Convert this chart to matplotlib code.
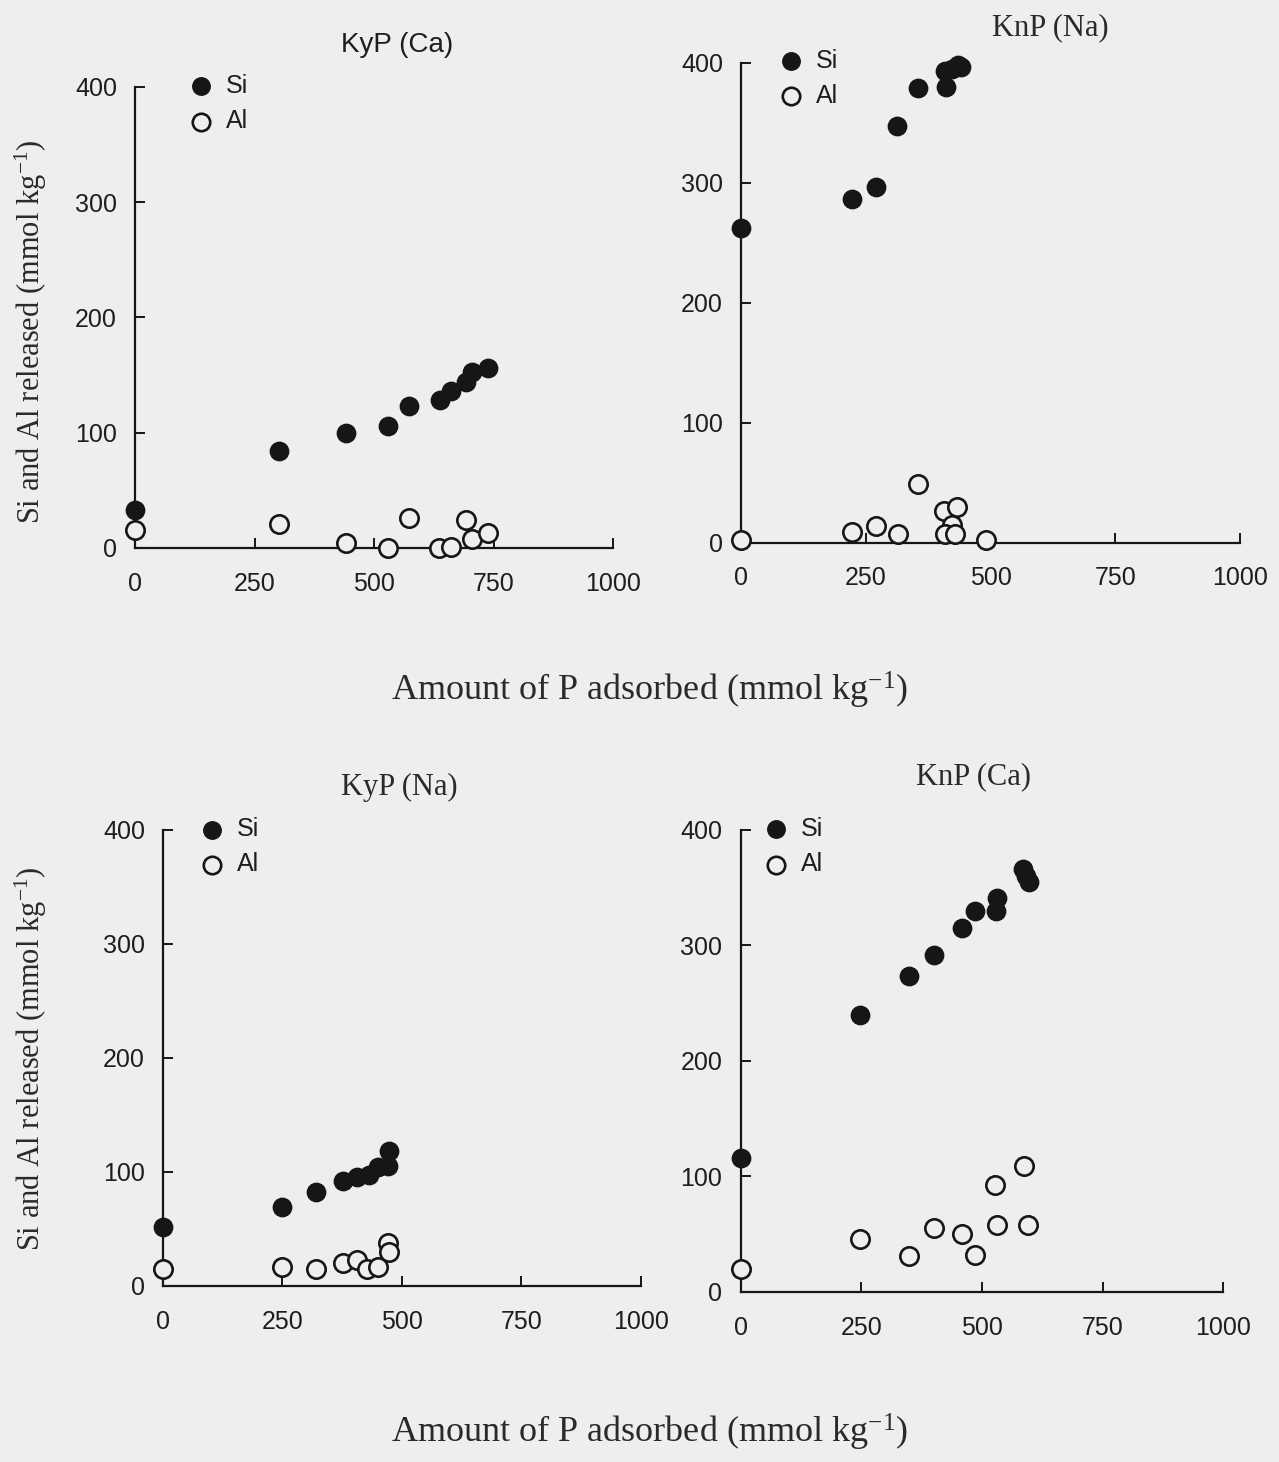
import matplotlib
matplotlib.use("Agg")
import matplotlib.pyplot as plt

plt.rcParams["mathtext.fontset"] = "custom"
plt.rcParams["mathtext.rm"] = "Liberation Serif"
plt.rcParams["mathtext.it"] = "Liberation Serif:italic"

# values (x = P adsorbed, y = Si / Al released)
kyp_ca_si_x = [0, 302, 442, 529, 574, 638, 662, 692, 705, 739]
kyp_ca_si_y = [33, 84, 100, 106, 123, 128, 136, 144, 153, 156]
kyp_ca_al_x = [0, 302, 442, 529, 574, 636, 662, 692, 705, 739]
kyp_ca_al_y = [16, 21, 4, 0, 26, 0, 1, 24, 8, 13]

knp_na_si_x = [0, 222, 271, 312, 355, 410, 408, 422, 435, 440]
knp_na_si_y = [262, 286, 296, 347, 379, 380, 393, 395, 398, 396]
knp_na_al_x = [0, 222, 271, 314, 355, 406, 433, 422, 408, 429, 490]
knp_na_al_y = [2, 9, 14, 7, 49, 26, 30, 15, 7, 7, 2]

kyp_na_si_x = [0, 250, 321, 376, 406, 432, 449, 470, 474]
kyp_na_si_y = [52, 69, 82, 92, 96, 97, 104, 105, 118]
kyp_na_al_x = [0, 250, 321, 376, 406, 427, 449, 470, 474]
kyp_na_al_y = [15, 17, 15, 20, 23, 15, 17, 38, 30]

knp_ca_si_x = [0, 247, 349, 401, 458, 486, 528, 532, 585, 592, 597]
knp_ca_si_y = [116, 240, 274, 292, 315, 330, 330, 341, 366, 360, 355]
knp_ca_al_x = [0, 247, 349, 401, 458, 486, 526, 532, 587, 595]
knp_ca_al_y = [20, 46, 31, 55, 50, 32, 93, 58, 109, 58]

BG = "#eeeef0"
INK = "#161616"
SANS = "Liberation Sans"
SERIF = "Liberation Serif"

fig = plt.figure(figsize=(12.79, 14.62), dpi=100, facecolor=BG)

panels = [
    # rect, data, legend anchor
    ([0.1056, 0.6252, 0.3737, 0.3153], (kyp_ca_si_x, kyp_ca_si_y, kyp_ca_al_x, kyp_ca_al_y), (0.065, 1.05)),
    ([0.5794, 0.6289, 0.3901, 0.3283], (knp_na_si_x, knp_na_si_y, knp_na_al_x, knp_na_al_y), (0.03, 1.05)),
    ([0.1274, 0.1204, 0.3737, 0.3119], (kyp_na_si_x, kyp_na_si_y, kyp_na_al_x, kyp_na_al_y), (0.03, 1.05)),
    ([0.5790, 0.1163, 0.3776, 0.3160], (knp_ca_si_x, knp_ca_si_y, knp_ca_al_x, knp_ca_al_y), (0.0, 1.05)),
]

for rect, (sx, sy, ax_, ay), anchor in panels:
    ax = fig.add_axes(rect)
    ax.set_facecolor("none")
    ax.scatter(sx, sy, s=175, color=INK, zorder=3, clip_on=False, label="Si")
    ax.scatter(ax_, ay, s=175, facecolor=BG, edgecolor=INK, linewidth=1.9,
               zorder=3, clip_on=False, label="Al")
    ax.set_xlim(0, 1000)
    ax.set_ylim(0, 400)
    ax.set_xticks([0, 250, 500, 750, 1000])
    ax.set_yticks([0, 100, 200, 300, 400])
    for s in ["top", "right"]:
        ax.spines[s].set_visible(False)
    for s in ["left", "bottom"]:
        ax.spines[s].set_linewidth(1.6)
        ax.spines[s].set_color(INK)
    ax.tick_params(direction="in", length=7, width=1.4, color=INK,
                   labelcolor="#1e1e1e", labelsize=18)
    ax.tick_params(axis="y", pad=13)
    ax.tick_params(axis="x", pad=17)
    for lab in ax.get_xticklabels() + ax.get_yticklabels():
        lab.set_fontfamily(SANS)
    leg = ax.legend(loc="upper left", bbox_to_anchor=anchor, frameon=False,
                    prop={"family": SANS, "size": 18}, handletextpad=0.0,
                    labelspacing=0.45, markerscale=0.95, borderaxespad=0)
    for t in leg.get_texts():
        t.set_color("#1e1e1e")

# panel titles
fig.text(397 / 1279, 1 - 45 / 1462, "KyP (Ca)", family=SANS, size=20,
         ha="center", va="center", color="#1e1e1e")
fig.text(1050 / 1279, 1 - 28 / 1462, "KnP (Na)", family=SERIF, size=22,
         ha="center", va="center", color="#2a2a2a")
fig.text(399 / 1279, 1 - 787 / 1462, "KyP (Na)", family=SERIF, size=22,
         ha="center", va="center", color="#2a2a2a")
fig.text(973 / 1279, 1 - 777 / 1462, "KnP (Ca)", family=SERIF, size=22,
         ha="center", va="center", color="#2a2a2a")

# shared axis labels
ylab = "Si and Al released (mmol kg$^{-1}$)"
xlab = "Amount of P adsorbed (mmol kg$^{-1}$)"
for yc in [332, 1059]:
    fig.text(31 / 1279, 1 - yc / 1462, ylab, family=SERIF, size=22,
             rotation=90, ha="center", va="center", color="#2a2a2a")
for yc in [690, 1432]:
    fig.text(650 / 1279, 1 - yc / 1462, xlab, family=SERIF, size=26,
             ha="center", va="center", color="#2a2a2a")

plt.savefig("out.png", dpi=100, facecolor=BG)
